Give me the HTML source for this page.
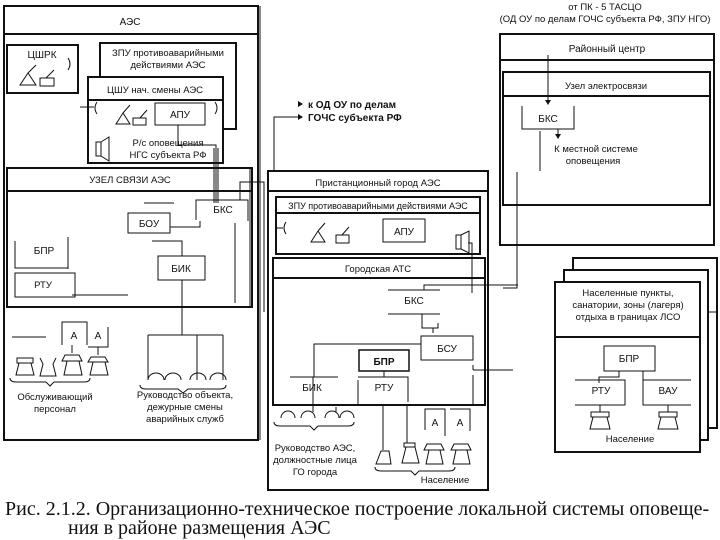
<!DOCTYPE html>
<html><head><meta charset="utf-8"><style>
body{margin:0;background:#fff;width:720px;height:540px;overflow:hidden}
svg text{font-family:"Liberation Sans","DejaVu Sans",sans-serif;fill:#111}
.cap{position:absolute;left:5px;top:500px;font:20px "Liberation Serif",serif;color:#111;line-height:19px;white-space:nowrap}
</style></head><body>
<svg width="720" height="540" style="position:absolute;left:0;top:0" fill="none" stroke="#111">
<g font-size="9.5" text-anchor="middle" stroke="none">
<text x="605" y="10">от ПК - 5 ТАСЦО</text>
<text x="605" y="22">(ОД ОУ по делам ГОЧС субъекта РФ, ЗПУ НГО)</text>
</g>
<!-- АЭС -->
<rect x="4" y="6" width="254" height="434" stroke-width="2"/>
<line x1="4" y1="34" x2="258" y2="34" stroke-width="2"/>
<line x1="260" y1="6" x2="260" y2="440" stroke-width="1"/>
<text x="130" y="25" font-size="10" stroke="none" text-anchor="middle">АЭС</text>
<rect x="7" y="45" width="71" height="48" stroke-width="2"/>
<text x="42" y="58" font-size="10" stroke="none" text-anchor="middle">ЦШРК</text>
<path d="M20 85l8-12 8 12z M40 78h14v8h-14z M28 73l8-8 M46 78l8-8 M68 58q4 6 0 12"/>
<rect x="100" y="43" width="136" height="86" stroke-width="2"/>
<text x="168" y="56" font-size="9.5" stroke="none" text-anchor="middle">ЗПУ противоаварийными</text>
<text x="168" y="68" font-size="9.5" stroke="none" text-anchor="middle">действиями АЭС</text>
<rect x="88" y="77" width="135" height="86" fill="#fff" stroke-width="2"/>
<line x1="88" y1="100" x2="223" y2="100" stroke-width="2"/>
<text x="155" y="93" font-size="9.5" stroke="none" text-anchor="middle">ЦШУ нач. смены АЭС</text>
<path d="M80 107h14 M97 102q-4 6 0 12 M215 102q4 6 0 12 M116 124l7-11 7 11z M133 118h13v7h-13z M123 113l7-8 M140 118l7-8"/>
<rect x="155" y="103" width="50" height="22"/>
<text x="180" y="118" font-size="10" stroke="none" text-anchor="middle">АПУ</text>
<path d="M96 142h5v14h-5z M101 142l8-5v24l-8-5"/>
<text x="168" y="146" font-size="9.5" stroke="none" text-anchor="middle">Р/с оповещения</text>
<text x="168" y="158" font-size="9.5" stroke="none" text-anchor="middle">НГС субъекта РФ</text>
<path d="M178 125v20h38v58 M214 148v55 M218 148v55"/>
<!-- узел связи -->
<rect x="7" y="168" width="245" height="139" stroke-width="2"/>
<line x1="7" y1="191" x2="252" y2="191" stroke-width="2"/>
<line x1="250" y1="168" x2="250" y2="307"/>
<text x="130" y="183" font-size="9.5" stroke="none" text-anchor="middle">УЗЕЛ  СВЯЗИ АЭС</text>
<path d="M196 220v-20h52v21 M240 200v-18h24v130 M144 203h30"/>
<text x="223" y="213" font-size="10" stroke="none" text-anchor="middle">БКС</text>
<rect x="128" y="213" width="42" height="20"/>
<text x="149" y="227" font-size="10" stroke="none" text-anchor="middle">БОУ</text>
<path d="M170 227h30v-6 M235 223v80 M152 241h30v15"/>
<path d="M15 241v27h53 M68 237v32"/>
<text x="44" y="254" font-size="10" stroke="none" text-anchor="middle">БПР</text>
<rect x="15" y="273" width="60" height="24"/>
<text x="43" y="288" font-size="9.5" stroke="none" text-anchor="middle">РТУ</text>
<line x1="72" y1="295" x2="128" y2="295"/>
<rect x="158" y="256" width="47" height="24"/>
<text x="181" y="272" font-size="10" stroke="none" text-anchor="middle">БИК</text>
<path d="M182 243v13 M182 280v55 M148 335h75 M148 335v45 M197 335v45 M223 335v45"/>
<path d="M148 380a8 7 0 0 1 16 0 M165 380a8 7 0 0 1 16 0 M190 380a8 7 0 0 1 16 0 M210 380a8 7 0 0 1 16 0 M140 385q0 4 6 4h32l5 4 5-4h32q6 0 6-4"/>
<text x="185" y="398" font-size="9.5" stroke="none" text-anchor="middle">Руководство объекта,</text>
<text x="185" y="410" font-size="9.5" stroke="none" text-anchor="middle">дежурные смены</text>
<text x="185" y="422" font-size="9.5" stroke="none" text-anchor="middle">аварийных служб</text>
<path d="M12 337h34 M62 345v-23h25v23 M88 347h20v-20 M72 345v8 M98 347v8"/>
<text x="74" y="339" font-size="10" stroke="none" text-anchor="middle">А</text>
<text x="98" y="339" font-size="10" stroke="none" text-anchor="middle">А</text>
<path d="M17 358h16v5h-16z M19 363l-3 12h18l-3-12 M40 358l3 6-3 12h16l-3-12 3-6 M65 355h14l3 6h-20z M67 361l-3 14h18l-3-14 M91 357h14l3 5h-20z M93 362l-3 13h18l-3-13 M10 378q0 4 6 4h30l4 4 4-4h30q6 0 6-4"/>
<text x="55" y="400" font-size="9.5" stroke="none" text-anchor="middle">Обслуживающий</text>
<text x="55" y="412" font-size="9.5" stroke="none" text-anchor="middle">персонал</text>
<!-- arrow label -->
<path d="M274 172v-55h24"/>
<path d="M298 114l5 3-5 3z M298 101l5 3-5 3z" fill="#111" stroke="none"/>
<text x="308" y="108" font-size="10" font-weight="bold" stroke="none">к ОД ОУ по делам</text>
<text x="308" y="121" font-size="10" font-weight="bold" stroke="none">ГОЧС субъекта РФ</text>
<!-- город -->
<rect x="268" y="171" width="220" height="319" stroke-width="2"/>
<line x1="268" y1="191" x2="488" y2="191" stroke-width="2"/>
<text x="378" y="186" font-size="9.5" stroke="none" text-anchor="middle">Пристанционный город АЭС</text>
<rect x="276" y="197" width="204" height="57" stroke-width="2"/>
<line x1="276" y1="213" x2="480" y2="213" stroke-width="2"/>
<text x="378" y="209" font-size="9" stroke="none" text-anchor="middle">ЗПУ противоаварийными действиями АЭС</text>
<path d="M275 228h8 M286 222q-4 6 0 12 M311 242l7-11 7 11z M336 235h13v8h-13z M318 231l7-8 M342 235l7-8"/>
<rect x="383" y="219" width="42" height="23"/>
<text x="404" y="235" font-size="10" stroke="none" text-anchor="middle">АПУ</text>
<path d="M456 235h5v14h-5z M461 235l8-4v22l-8-4 M468 243h4v50"/>
<rect x="273" y="258" width="212" height="147" stroke-width="2"/>
<line x1="273" y1="278" x2="485" y2="278" stroke-width="2"/>
<text x="378" y="272" font-size="9.5" stroke="none" text-anchor="middle">Городская АТС</text>
<path d="M388 290h52 M424 290v-5h94 M388 314h52 M422 314v14h16v-5 M433 328v5"/>
<text x="414" y="304" font-size="10" stroke="none" text-anchor="middle">БКС</text>
<rect x="421" y="336" width="52" height="24"/>
<text x="447" y="352" font-size="10" stroke="none" text-anchor="middle">БСУ</text>
<path d="M473 370h40 M473 370v-5 M473 405v-30"/>
<rect x="359" y="350" width="50" height="21" stroke-width="1.5"/>
<text x="384" y="365" font-size="10" font-weight="bold" stroke="none" text-anchor="middle">БПР</text>
<path d="M314 377v-33h107 M290 377h48 M358 380v25 M358 377h50v25 M384 371v6 M313 377v30"/>
<text x="312" y="391" font-size="10" stroke="none" text-anchor="middle">БИК</text>
<text x="384" y="391" font-size="10" stroke="none" text-anchor="middle">РТУ</text>
<path d="M281 418a7 7 0 0 1 14 0 M301 418a7 7 0 0 1 14 0 M325 418a7 7 0 0 1 14 0 M340 418a7 7 0 0 1 14 0 M274 422q0 4 6 4h30l4 4 4-4h30q6 0 6-4 M313 407v5 M336 407v5"/>
<text x="315" y="451" font-size="9.5" stroke="none" text-anchor="middle">Руководство АЭС,</text>
<text x="315" y="463" font-size="9.5" stroke="none" text-anchor="middle">должностные лица</text>
<text x="315" y="475" font-size="9.5" stroke="none" text-anchor="middle">ГО города</text>
<path d="M383 405v45 M407 405v38 M425 430v-21h20v27 M450 409h20v22"/>
<text x="435" y="426" font-size="10" stroke="none" text-anchor="middle">А</text>
<text x="460" y="426" font-size="10" stroke="none" text-anchor="middle">А</text>
<path d="M381 451l-5 13h15l-2-13z M404 443h11v4h-11z M406 447l-4 16h17l-4-16 M427 444h14l3 6h-20z M429 450l-3 14h17l-3-14 M454 444h14l3 6h-20z M456 450l-3 14h17l-3-14 M375 467q0 4 6 4h30l4 4 4-4h30q6 0 6-4"/>
<text x="445" y="483" font-size="9.5" stroke="none" text-anchor="middle">Население</text>
<!-- районный центр -->
<rect x="500" y="34" width="214" height="211" stroke-width="2"/>
<line x1="500" y1="60" x2="714" y2="60" stroke-width="2"/>
<text x="607" y="52" font-size="10" stroke="none" text-anchor="middle">Районный центр</text>
<rect x="503" y="72" width="207" height="133" stroke-width="2"/>
<line x1="503" y1="96" x2="710" y2="96" stroke-width="2"/>
<text x="606" y="89" font-size="9.5" stroke="none" text-anchor="middle">Узел электросвязи</text>
<path d="M548 55v48 M522 106v23h52v-23 M558 129v8 M540 131v40 M517 172v116h-14"/>
<path d="M545 100l3 5 3-5z M555 134l3 5 3-5z" fill="#111" stroke="none"/>
<text x="548" y="122" font-size="10" stroke="none" text-anchor="middle">БКС</text>
<text x="596" y="152" font-size="9.5" stroke="none" text-anchor="middle">К местной системе</text>
<text x="593" y="164" font-size="9.5" stroke="none" text-anchor="middle">оповещения</text>
<!-- stacked -->
<rect x="573" y="258" width="144" height="170" fill="#fff" stroke-width="2"/>
<rect x="564" y="270" width="144" height="170" fill="#fff" stroke-width="2"/>
<rect x="555" y="282" width="145" height="170" fill="#fff" stroke-width="2"/>
<line x1="555" y1="337" x2="700" y2="337" stroke-width="2"/>
<path d="M708 312h9"/>
<text x="628" y="296" font-size="9.5" stroke="none" text-anchor="middle">Населенные пункты,</text>
<text x="628" y="308" font-size="9.5" stroke="none" text-anchor="middle">санатории, зоны (лагеря)</text>
<text x="628" y="320" font-size="9.5" stroke="none" text-anchor="middle">отдыха в границах ЛСО</text>
<rect x="604" y="346" width="51" height="25"/>
<text x="629" y="362" font-size="10" stroke="none" text-anchor="middle">БПР</text>
<path d="M619 371v6h-20v6 M575 380h50v25h-50 M643 371v10 M643 380h48 M643 380v25h48 M600 405v7 M668 405v7"/>
<text x="601" y="394" font-size="10" stroke="none" text-anchor="middle">РТУ</text>
<text x="668" y="394" font-size="10" stroke="none" text-anchor="middle">ВАУ</text>
<path d="M591 412h18v5h-18z M593 417l-3 12h20l-3-12 M659 412h18v5h-18z M661 417l-3 12h20l-3-12"/>
<text x="630" y="442" font-size="9.5" stroke="none" text-anchor="middle">Население</text>
</svg>
<div class="cap">Рис. 2.1.2. Организационно-техническое построение локальной системы оповеще-<br><span style="padding-left:63px">ния  в районе размещения АЭС</span></div>
</body></html>
